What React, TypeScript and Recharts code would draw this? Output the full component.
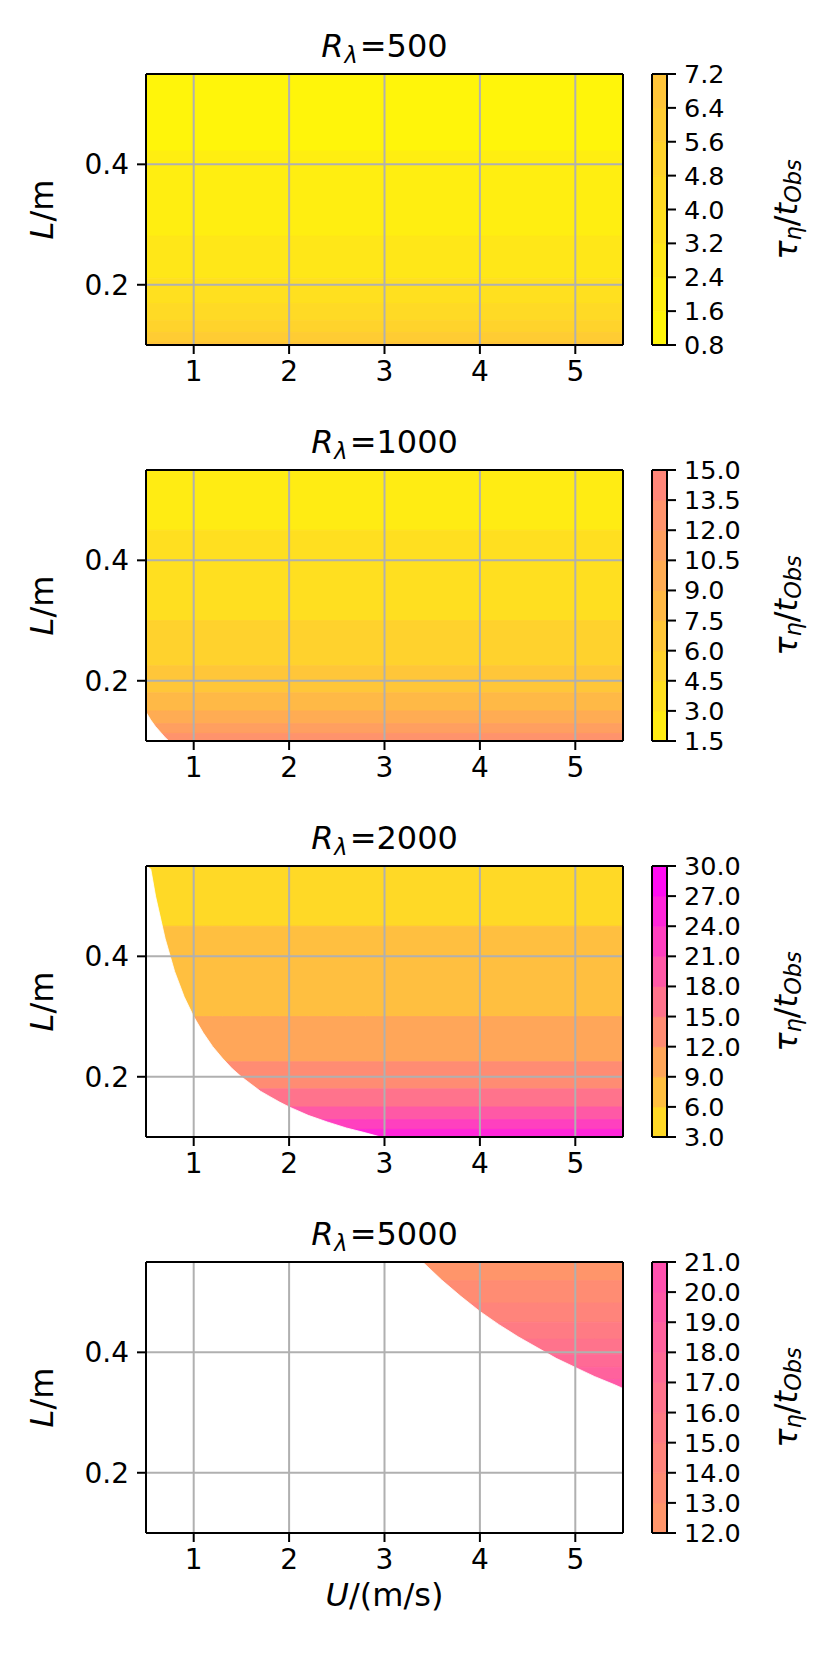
import React from 'react';
import { ComposedChart, XAxis, YAxis, Area, ReferenceLine, Label } from 'recharts';

// ---------- data ----------
const U_TICKS = [1, 2, 3, 4, 5];
const L_TICKS = [0.2, 0.4];
const U_DOMAIN: [number, number] = [0.5, 5.5];
const L_DOMAIN: [number, number] = [0.1, 0.55];

const R_LAMBDA = ['500', '1000', '2000', '5000'];

// contour levels (colorbar tick labels)
const LEVELS_500 = [0.8, 1.6, 2.4, 3.2, 4.0, 4.8, 5.6, 6.4, 7.2];
const LEVELS_1000 = [1.5, 3.0, 4.5, 6.0, 7.5, 9.0, 10.5, 12.0, 13.5, 15.0];
const LEVELS_2000 = [3, 6, 9, 12, 15, 18, 21, 24, 27, 30];
const LEVELS_5000 = [12, 13, 14, 15, 16, 17, 18, 19, 20, 21];

// L (m) at which tau/t_obs crosses each level (band edges)
const EDGES_500 = [0.84, 0.422, 0.281, 0.211, 0.169, 0.141, 0.121, 0.105, 0.094];
const EDGES_1000 = [0.9, 0.45, 0.3, 0.225, 0.18, 0.15, 0.129, 0.1125, 0.1, 0.09];
const EDGES_2000 = [0.9, 0.45, 0.3, 0.225, 0.18, 0.15, 0.129, 0.1125, 0.1, 0.09];
const EDGES_5000 = [0.5625, 0.519, 0.482, 0.45, 0.422, 0.397, 0.375, 0.355, 0.3375, 0.321];

// masked (white) region: below the boundary L(U)
const MASK_U_500: number[] = [];
const MASK_L_500: number[] = [];
const MASK_U_1000 = [0.5, 0.55, 0.6, 0.65, 0.7, 0.74];
const MASK_L_1000 = [0.148, 0.135, 0.124, 0.115, 0.106, 0.1];
const MASK_U_2000 = [0.5, 0.55, 0.6, 0.7, 0.8, 0.9, 1.0, 1.1, 1.2, 1.3, 1.4, 1.5, 1.6, 1.7, 1.8, 1.9, 2.0, 2.2, 2.4, 2.6, 2.8, 2.96];
const MASK_L_2000 = [0.56, 0.545, 0.5, 0.43, 0.375, 0.333, 0.3, 0.273, 0.25, 0.231, 0.214, 0.2, 0.188, 0.176, 0.167, 0.158, 0.15, 0.136, 0.125, 0.115, 0.107, 0.1];
const MASK_U_5000 = [0.5, 3.4, 3.6, 3.8, 4.0, 4.2, 4.4, 4.6, 4.8, 5.0, 5.2, 5.4, 5.5];
const MASK_L_5000 = [0.55, 0.55, 0.52, 0.493, 0.468, 0.446, 0.426, 0.408, 0.39, 0.375, 0.36, 0.347, 0.34];

// ---------- styling / layout ----------
const FONT = "'DejaVu Sans', sans-serif";
const TICK_FS = 28;
const CB_TICK_FS = 25.5;
const TITLE_FS = 32;
const LABEL_FS = 32;
const PLOT_LEFT = 146;
const PLOT_RIGHT = 623;
const PLOT_TOP = 74; // inside each panel svg
const PLOT_H = 271;
const PANEL_STEP = 396;
const CHART_W = 830;
const CHART_H = 430;
const CB_LEFT = 652;
const CB_RIGHT = 667;
const VMIN = 0;
const VMAX = 30;

function springR(v: number) {
  const t = Math.min(1, Math.max(0, (v - VMIN) / (VMAX - VMIN)));
  const g = Math.round(255 * (1 - t));
  const b = Math.round(255 * t);
  return `rgb(255,${g},${b})`;
}

const clampL = (v: number) => Math.min(L_DOMAIN[1], Math.max(L_DOMAIN[0], v));

const PANELS = [
  { title: R_LAMBDA[0], levels: LEVELS_500, edges: EDGES_500, maskU: MASK_U_500, maskL: MASK_L_500 },
  { title: R_LAMBDA[1], levels: LEVELS_1000, edges: EDGES_1000, maskU: MASK_U_1000, maskL: MASK_L_1000 },
  { title: R_LAMBDA[2], levels: LEVELS_2000, edges: EDGES_2000, maskU: MASK_U_2000, maskL: MASK_L_2000 },
  { title: R_LAMBDA[3], levels: LEVELS_5000, edges: EDGES_5000, maskU: MASK_U_5000, maskL: MASK_L_5000 },
];

type PanelDef = typeof PANELS[number];

function buildRows(p: PanelDef) {
  const us = Array.from(new Set([U_DOMAIN[0], U_DOMAIN[1], ...p.maskU])).sort((a, b) => a - b);
  return us.map((u) => {
    const row: any = { u };
    for (let i = 0; i < p.levels.length - 1; i++) {
      row['b' + i] = [clampL(p.edges[i + 1]), clampL(p.edges[i])];
    }
    const mi = p.maskU.indexOf(u);
    if (mi >= 0) row.mask = [L_DOMAIN[0], clampL(p.maskL[mi])];
    return row;
  });
}

const tickStyle = { fill: '#000', fontSize: TICK_FS, fontFamily: FONT };
const cbTickStyle = { fill: '#000', fontSize: CB_TICK_FS, fontFamily: FONT };

function Panel({ p, index, last }: { p: PanelDef; index: number; last: boolean }) {
  const rows = buildRows(p);
  const nb = p.levels.length - 1;
  const cbRows = [0, 1].map((x) => {
    const r: any = { x };
    for (let i = 0; i < nb; i++) r['c' + i] = [p.levels[i], p.levels[i + 1]];
    return r;
  });
  const cx = (PLOT_LEFT + PLOT_RIGHT) / 2;
  const cy = PLOT_TOP + PLOT_H / 2;
  const top = index * PANEL_STEP;
  const marginBottom = CHART_H - PLOT_TOP - PLOT_H - 30;

  return (
    <div style={{ position: 'absolute', left: 0, top, width: CHART_W, height: CHART_H }}>
      <div style={{ position: 'absolute', left: 0, top: 0 }}>
        <ComposedChart
          width={CHART_W}
          height={CHART_H}
          data={rows}
          margin={{ top: PLOT_TOP, right: CHART_W - PLOT_RIGHT, bottom: marginBottom, left: PLOT_LEFT - 60 }}
        >
          <XAxis
            type="number"
            dataKey="u"
            domain={U_DOMAIN}
            ticks={U_TICKS}
            allowDataOverflow
            axisLine={false}
            tickLine={{ stroke: '#000', strokeWidth: 2 }}
            tickSize={9}
            tickMargin={7}
            tick={tickStyle}
            height={30}
          >
            {last && (
              <Label
                content={() => (
                  <text x={cx} y={PLOT_TOP + PLOT_H + 62} textAnchor="middle" dominantBaseline="central" fontFamily={FONT} fontSize={LABEL_FS} fill="#000">
                    <tspan fontStyle="italic">U</tspan>
                    <tspan>/(m/s)</tspan>
                  </text>
                )}
              />
            )}
          </XAxis>
          <YAxis
            type="number"
            domain={L_DOMAIN}
            ticks={L_TICKS}
            allowDataOverflow
            axisLine={false}
            tickLine={{ stroke: '#000', strokeWidth: 2 }}
            tickSize={9}
            tickMargin={8}
            tick={tickStyle}
            tickFormatter={(v: number) => v.toFixed(1)}
            width={60}
          >
            <Label
              content={() => (
                <text x={42} y={cy} transform={`rotate(-90 42 ${cy})`} textAnchor="middle" dominantBaseline="central" fontFamily={FONT} fontSize={LABEL_FS} fill="#000">
                  <tspan fontStyle="italic">L</tspan>
                  <tspan>/m</tspan>
                </text>
              )}
            />
          </YAxis>
          {Array.from({ length: nb }, (_, i) => {
            const col = springR((p.levels[i] + p.levels[i + 1]) / 2);
            return (
              <Area
                key={'b' + i}
                dataKey={'b' + i}
                type="linear"
                stroke={col}
                strokeWidth={0.8}
                fill={col}
                fillOpacity={1}
                dot={false}
                activeDot={false}
                isAnimationActive={false}
              />
            );
          })}
          {p.maskU.length > 0 && (
            <Area
              dataKey="mask"
              type="linear"
              stroke="#ffffff"
              strokeWidth={0.8}
              fill="#ffffff"
              fillOpacity={1}
              dot={false}
              activeDot={false}
              isAnimationActive={false}
            />
          )}
          {U_TICKS.map((u) => (
            <ReferenceLine key={'gx' + u} x={u} stroke="#b0b0b0" strokeWidth={2} />
          ))}
          {L_TICKS.map((l) => (
            <ReferenceLine key={'gy' + l} y={l} stroke="#b0b0b0" strokeWidth={2} />
          ))}
          <ReferenceLine x={U_DOMAIN[0]} stroke="#000" strokeWidth={2} />
          <ReferenceLine x={U_DOMAIN[1]} stroke="#000" strokeWidth={2} />
          <ReferenceLine y={L_DOMAIN[0]} stroke="#000" strokeWidth={2} />
          <ReferenceLine y={L_DOMAIN[1]} stroke="#000" strokeWidth={2}>
            <Label
              content={() => (
                <text x={cx} y={PLOT_TOP - 17} textAnchor="middle" fontFamily={FONT} fontSize={TITLE_FS} fill="#000">
                  <tspan fontStyle="italic">R</tspan>
                  <tspan fontSize={TITLE_FS * 0.7} dx={1} dy={6} fontStyle="italic">λ</tspan>
                  <tspan dx={2} dy={-6}>={p.title}</tspan>
                </text>
              )}
            />
          </ReferenceLine>
        </ComposedChart>
      </div>
      <div style={{ position: 'absolute', left: 0, top: 0 }}>
        <ComposedChart
          width={CHART_W}
          height={CHART_H}
          data={cbRows}
          margin={{ top: PLOT_TOP, right: CHART_W - CB_RIGHT - 100, bottom: CHART_H - PLOT_TOP - PLOT_H, left: CB_LEFT }}
        >
          <XAxis type="number" dataKey="x" domain={[0, 1]} hide />
          <YAxis
            type="number"
            orientation="right"
            domain={[p.levels[0], p.levels[p.levels.length - 1]]}
            ticks={p.levels}
            interval={0}
            allowDataOverflow
            axisLine={false}
            tickLine={{ stroke: '#000', strokeWidth: 2 }}
            tickSize={9}
            tickMargin={8}
            tick={cbTickStyle}
            tickFormatter={(v: number) => v.toFixed(1)}
            width={100}
          >
            <Label
              content={() => {
                const lx = 786;
                return (
                  <text x={lx} y={cy} transform={`rotate(-90 ${lx} ${cy})`} textAnchor="middle" dominantBaseline="central" fontFamily={FONT} fontSize={LABEL_FS} fill="#000">
                    <tspan fontStyle="italic">τ</tspan>
                    <tspan fontStyle="italic" fontSize={LABEL_FS * 0.7} dy={7}>η</tspan>
                    <tspan dy={-7}>/</tspan>
                    <tspan fontStyle="italic">t</tspan>
                    <tspan fontStyle="italic" fontSize={LABEL_FS * 0.7} dy={7}>Obs</tspan>
                  </text>
                );
              }}
            />
          </YAxis>
          {Array.from({ length: nb }, (_, i) => {
            const col = springR((p.levels[i] + p.levels[i + 1]) / 2);
            return (
              <Area
                key={'c' + i}
                dataKey={'c' + i}
                type="linear"
                stroke={col}
                strokeWidth={0.8}
                fill={col}
                fillOpacity={1}
                dot={false}
                activeDot={false}
                isAnimationActive={false}
              />
            );
          })}
          <ReferenceLine x={0} stroke="#000" strokeWidth={2} />
          <ReferenceLine x={1} stroke="#000" strokeWidth={2} />
          <ReferenceLine y={p.levels[0]} stroke="#000" strokeWidth={2} />
          <ReferenceLine y={p.levels[p.levels.length - 1]} stroke="#000" strokeWidth={2} />
        </ComposedChart>
      </div>
    </div>
  );
}

export default function App() {
  return (
    <div style={{ position: 'absolute', left: 0, top: 0, width: 830, height: 1661, background: '#fff', fontFamily: FONT }}>
      {PANELS.map((p, i) => (
        <Panel key={p.title} p={p} index={i} last={i === PANELS.length - 1} />
      ))}
    </div>
  );
}
